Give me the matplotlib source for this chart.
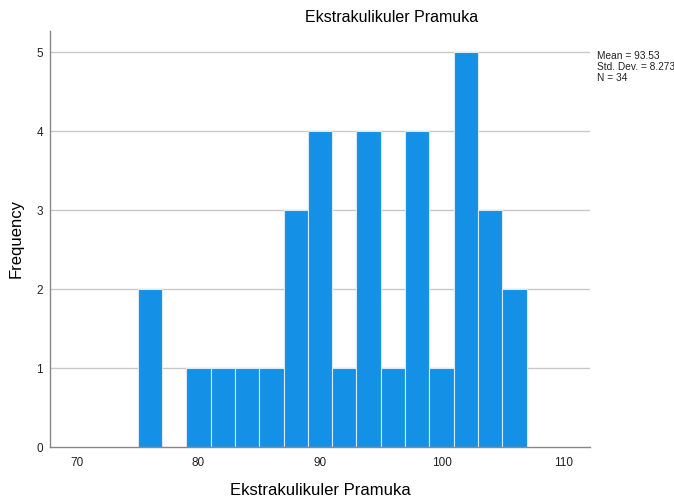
import matplotlib
matplotlib.use("Agg")
import matplotlib.pyplot as plt
import numpy as np

bin_edges = [75, 77, 79, 81, 83, 85, 87, 89, 91, 93, 95, 97, 99, 101, 103, 105, 107]
counts = [2, 0, 1, 1, 1, 1, 3, 4, 1, 4, 1, 4, 1, 5, 3, 2]
x_ticks = [70, 80, 90, 100, 110]
y_ticks = [0, 1, 2, 3, 4, 5]
title_text = "Ekstrakulikuler Pramuka"
stats_text = "Mean = 93.53\nStd. Dev. = 8.273\nN = 34"

plt.rcParams['font.family'] = ['Liberation Sans', 'DejaVu Sans']

fig = plt.figure(figsize=(6.74, 5.0), dpi=100)
left_px, right_px, top_px, bottom_px = 50, 590, 31, 447
ax = fig.add_axes([left_px / 674, 1 - bottom_px / 500,
                   (right_px - left_px) / 674, (bottom_px - top_px) / 500])

ax.set_xlim(67.8, 112.2)
ax.set_ylim(0, 5.27)

for y in y_ticks[1:]:
    ax.axhline(y, color='#c8c8c8', lw=1.0, zorder=0)

edges = np.array(bin_edges, dtype=float)
ax.bar(edges[:-1], counts, width=np.diff(edges), align='edge',
       color='#1490e6', edgecolor='#d6e9f7', linewidth=0.8, zorder=2)

ax.set_xticks(x_ticks)
ax.set_yticks(y_ticks)
ax.tick_params(axis='both', length=0, labelsize=8.5, colors='#222222')
ax.tick_params(axis='x', pad=7)
ax.tick_params(axis='y', pad=5)

for s in ['top', 'right']:
    ax.spines[s].set_visible(False)
for s in ['left', 'bottom']:
    ax.spines[s].set_color('#888888')
    ax.spines[s].set_linewidth(1.0)

fig.text(392 / 674, 1 - 17 / 500, title_text, fontsize=11.5, ha='center', va='center')
ax.set_xlabel("Ekstrakulikuler Pramuka", fontsize=12, labelpad=10)
ax.set_ylabel("Frequency", fontsize=12, labelpad=9)

fig.text(597 / 674, 1 - 51 / 500, stats_text, fontsize=7.3, va='top', ha='left',
         linespacing=1.1, color='#222222')

fig.savefig("out.png", dpi=100)
